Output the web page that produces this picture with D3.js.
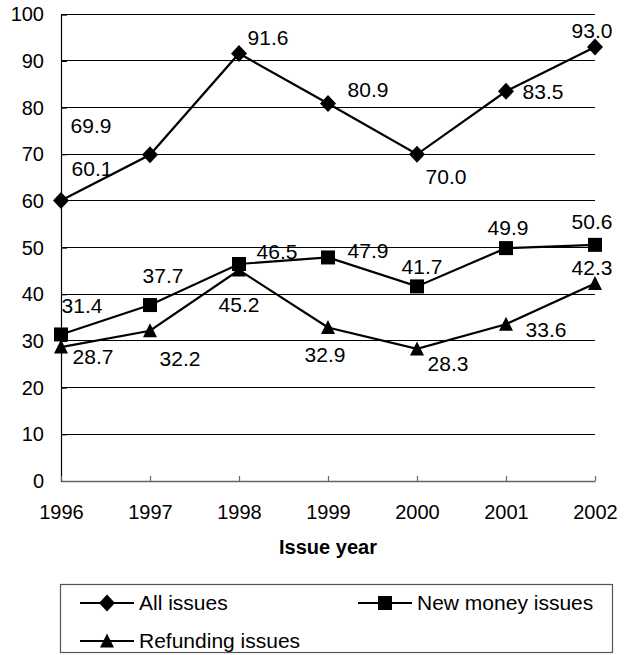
<!DOCTYPE html>
<html>
<head>
<meta charset="utf-8">
<script src="https://cdn.jsdelivr.net/npm/d3@7"></script>
<style>
  html, body { margin: 0; padding: 0; background: #fff; }
  svg { display: block; font-family: "Liberation Sans", Arial, sans-serif; }
</style>
</head>
<body>
<svg id="chart" width="626" height="655"></svg>
<script>
// Issue years and the three series
const years = [1996, 1997, 1998, 1999, 2000, 2001, 2002];
const allIssues = [60.1, 69.9, 91.6, 80.9, 70.0, 83.5, 93.0];
const newMoneyIssues = [31.4, 37.7, 46.5, 47.9, 41.7, 49.9, 50.6];
const refundingIssues = [28.7, 32.2, 45.2, 32.9, 28.3, 33.6, 42.3];
const yTicks = [0, 10, 20, 30, 40, 50, 60, 70, 80, 90, 100];
const seriesNames = ["All issues", "New money issues", "Refunding issues"];

// Label placement (offset of each value label from its marker centre)
const labelOffsets = {
  all: [[31, -32], [-59, -29], [29, -16], [40, -14], [29, 22], [37, 0], [-3, -16]],
  money: [[21, -29], [13, -29], [38, -12], [40, -7], [5, -20], [2, -20], [-3, -23]],
  refund: [[32, 10], [30, 28], [0, 35], [-3, 27], [31, 15], [40, 5], [-3, -16]]
};

const svg = d3.select("#chart");
const AXIS_FONT = 20;
const LABEL_FONT = 21;

const x = d3.scalePoint().domain(years).range([61, 595]);
const y = d3.scaleLinear().domain([0, 100]).range([481, 14.3]);

// Horizontal gridlines
svg.append("g")
  .selectAll("line")
  .data(yTicks.filter(d => d > 0))
  .join("line")
  .attr("x1", 61).attr("x2", 595)
  .attr("y1", d => y(d)).attr("y2", d => y(d))
  .attr("stroke", "#000").attr("stroke-width", 1)
  .attr("shape-rendering", "crispEdges");

// Y axis
const yAxis = svg.append("g")
  .attr("transform", "translate(61,0)")
  .call(d3.axisLeft(y).tickValues(yTicks).tickSize(-6).tickPadding(17).tickFormat(d3.format("d")));
yAxis.select(".domain").attr("stroke", "#000").attr("stroke-width", 1.2);
yAxis.selectAll(".tick line").attr("stroke", "#000");
yAxis.selectAll("text").attr("font-size", AXIS_FONT).attr("fill", "#000")
  .attr("font-family", "Liberation Sans, Arial, sans-serif");

// X axis
const xAxis = svg.append("g")
  .attr("transform", "translate(0,481)")
  .call(d3.axisBottom(x).tickSize(-5).tickSizeOuter(0).tickPadding(24).tickFormat(d3.format("d")));
xAxis.select(".domain").attr("stroke", "#666").attr("stroke-width", 1.5);
xAxis.selectAll(".tick line").attr("stroke", "#666").attr("stroke-width", 1.2);
xAxis.selectAll("text").attr("font-size", AXIS_FONT).attr("fill", "#000")
  .attr("font-family", "Liberation Sans, Arial, sans-serif");

// Axis title
svg.append("text")
  .attr("x", 328).attr("y", 554)
  .attr("text-anchor", "middle")
  .attr("font-size", 20).attr("font-weight", "bold")
  .text("Issue year");

// Marker shapes
const markerPath = {
  diamond: "M0,-8.5L8,0L0,8.5L-8,0Z",
  square: "M-7,-7H7V7H-7Z",
  triangle: "M0,-7.5L7,6.5H-7Z"
};

const series = [
  { key: "all", name: seriesNames[0], values: allIssues, shape: "diamond" },
  { key: "money", name: seriesNames[1], values: newMoneyIssues, shape: "square" },
  { key: "refund", name: seriesNames[2], values: refundingIssues, shape: "triangle" }
];

const line = d3.line().x((d, i) => x(years[i])).y(d => y(d));

series.forEach(s => {
  const g = svg.append("g");
  g.append("path")
    .attr("d", line(s.values))
    .attr("fill", "none").attr("stroke", "#000").attr("stroke-width", 2.2);
  g.selectAll("path.marker")
    .data(s.values)
    .join("path")
    .attr("class", "marker")
    .attr("d", markerPath[s.shape])
    .attr("transform", (d, i) => `translate(${x(years[i])},${y(d)})`)
    .attr("fill", "#000");
});

// Value labels
series.forEach(s => {
  svg.append("g")
    .selectAll("text")
    .data(s.values)
    .join("text")
    .attr("x", (d, i) => x(years[i]) + labelOffsets[s.key][i][0])
    .attr("y", (d, i) => y(d) + labelOffsets[s.key][i][1])
    .attr("dy", "0.35em")
    .attr("text-anchor", "middle")
    .attr("font-size", LABEL_FONT)
    .attr("fill", "#000")
    .text(d => d.toFixed(1));
});

// Legend
const legend = svg.append("g");
legend.append("rect")
  .attr("x", 60.5).attr("y", 584.5).attr("width", 552).attr("height", 68)
  .attr("fill", "#fff").attr("stroke", "#555").attr("stroke-width", 1.2);

const legendItems = [
  { s: series[0], lx: 80, ly: 603 },
  { s: series[1], lx: 358, ly: 603 },
  { s: series[2], lx: 80, ly: 641 }
];
legendItems.forEach(it => {
  const g = legend.append("g").attr("transform", `translate(${it.lx},${it.ly})`);
  g.append("line").attr("x1", 0).attr("x2", 54).attr("y1", 0).attr("y2", 0)
    .attr("stroke", "#000").attr("stroke-width", 2.2);
  g.append("path").attr("d", markerPath[it.s.shape])
    .attr("transform", "translate(27,0)").attr("fill", "#000");
  g.append("text").attr("x", 59).attr("y", 0).attr("dy", "0.35em")
    .attr("font-size", LABEL_FONT).attr("fill", "#000").text(it.s.name);
});
</script>
</body>
</html>
